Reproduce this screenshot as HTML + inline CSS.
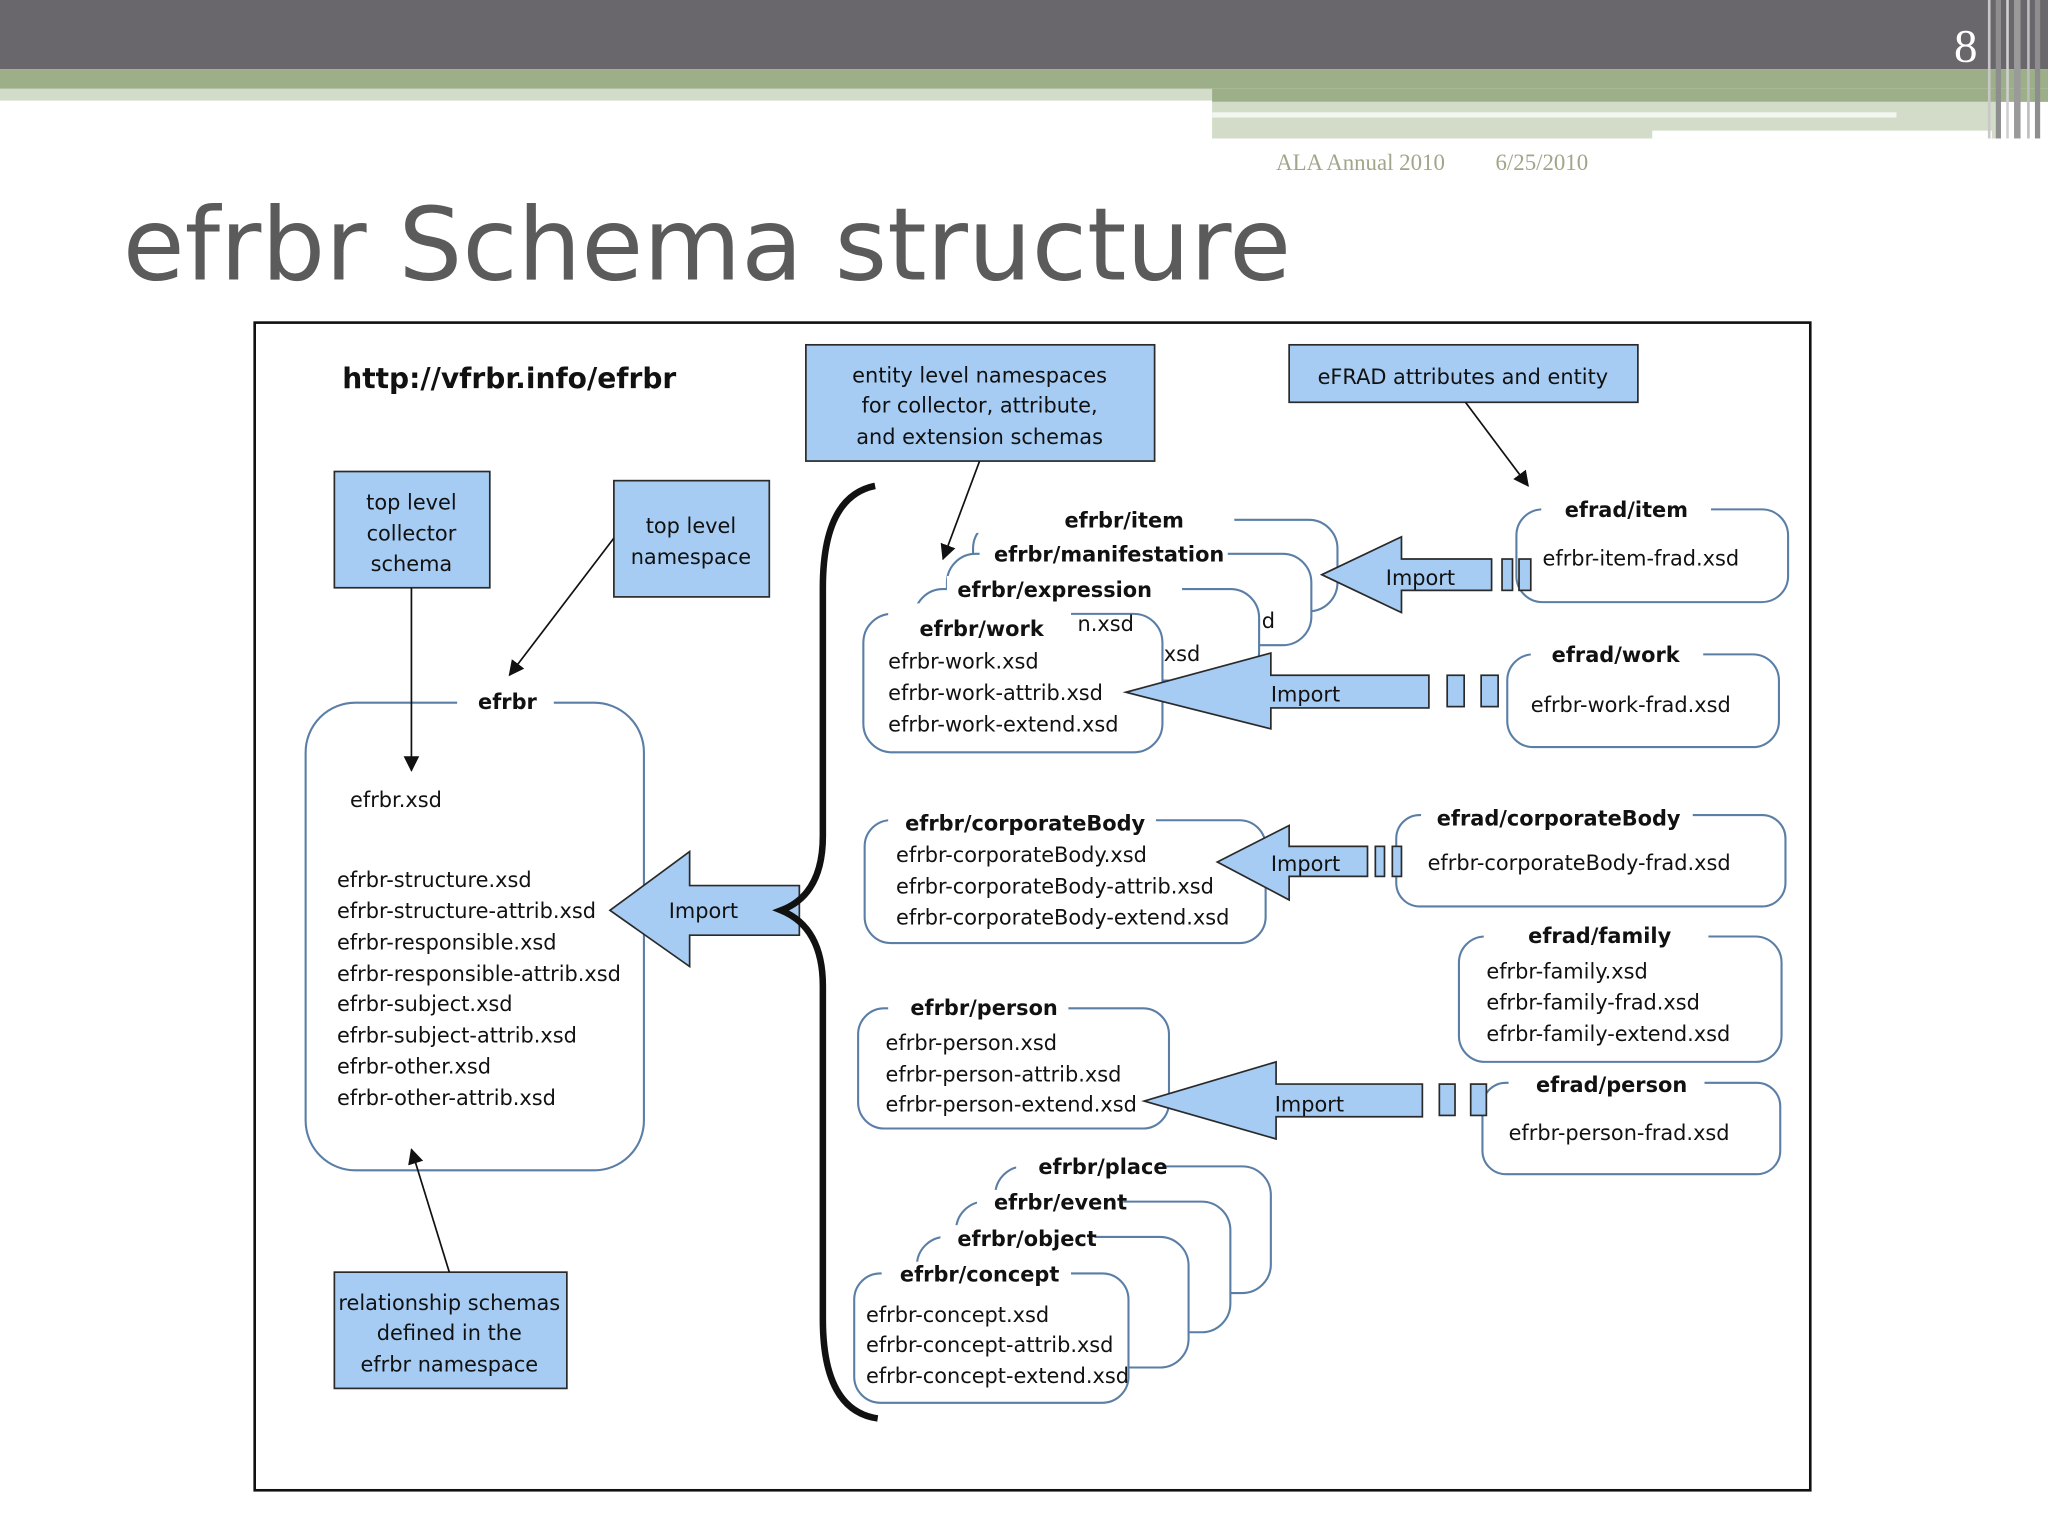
<!DOCTYPE html>
<html><head><meta charset="utf-8"><style>
html,body{margin:0;padding:0;background:#fff;}
svg{display:block;}
.t{font-family:"DejaVu Sans","Liberation Sans",sans-serif;font-size:16px;fill:#111;}
.b{font-family:"DejaVu Sans","Liberation Sans",sans-serif;font-size:16px;font-weight:bold;fill:#111;}
.bx{fill:#a6ccf3;stroke:#2a2a2a;stroke-width:1.3;}
.c{fill:#fff;stroke:#5a7ea6;stroke-width:1.6;}
.ar{fill:#a6ccf3;stroke:#2a2a2a;stroke-width:1.3;}
.ln{stroke:#111;stroke-width:1.3;fill:none;}
</style></head><body>
<svg width="2048" height="1536" viewBox="0 0 1568 1176" xmlns="http://www.w3.org/2000/svg">
<defs><marker id="m" markerWidth="12" markerHeight="12" refX="11" refY="6" orient="auto" markerUnits="userSpaceOnUse"><path d="M0,0 L12,6 L0,12 z" fill="#111"/></marker></defs>
<rect x="0" y="0" width="1568" height="53" fill="#69676b"/>
<rect x="0" y="53" width="1568" height="15" fill="#9caf88"/>
<rect x="0" y="68" width="928" height="9" fill="#d2dcc8"/>
<rect x="928" y="68" width="640" height="10" fill="#9caf88"/>
<rect x="928" y="78" width="600" height="28" fill="#d2dcc8"/>
<rect x="928" y="86" width="524" height="4" fill="#f4f7f0"/>
<rect x="1265" y="100" width="260" height="6" fill="#fff"/>
<rect x="1522" y="0" width="2" height="106" fill="#c8c8c8"/>
<rect x="1528" y="0" width="4" height="106" fill="#8e8e8e"/>
<rect x="1536" y="0" width="2" height="106" fill="#d0d0d0"/>
<rect x="1542" y="0" width="5" height="106" fill="#9a9a9a"/>
<rect x="1552" y="0" width="2" height="106" fill="#bdbdbd"/>
<rect x="1558" y="0" width="4" height="106" fill="#8e8e8e"/>
<text x="1505" y="47" font-family="Liberation Serif,serif" font-size="36" fill="#fff" text-anchor="middle">8</text>
<text x="977" y="130" font-family="Liberation Serif,serif" font-size="17.5" fill="#a3a58a">ALA Annual 2010</text>
<text x="1145" y="130" font-family="Liberation Serif,serif" font-size="17.5" fill="#a3a58a">6/25/2010</text>
<text x="94" y="214" font-family="DejaVu Sans,Liberation Sans,sans-serif" font-size="77" fill="#5b5b5b">efrbr Schema structure</text>
<rect x="195" y="247" width="1191" height="894" fill="#fff" stroke="#111" stroke-width="2"/>
<text x="262" y="297" class="b" style="font-size:21.5px">http://vfrbr.info/efrbr</text>
<rect class="bx" x="256" y="361" width="119" height="89"/>
<text class="t" text-anchor="middle" x="315" y="390">top level</text><text class="t" text-anchor="middle" x="315" y="414">collector</text><text class="t" text-anchor="middle" x="315" y="437">schema</text>
<rect class="bx" x="470" y="368" width="119" height="89"/>
<text class="t" text-anchor="middle" x="529" y="408">top level</text><text class="t" text-anchor="middle" x="529" y="432">namespace</text>
<rect class="bx" x="617" y="264" width="267" height="89"/>
<text class="t" text-anchor="middle" x="750" y="293">entity level namespaces</text><text class="t" text-anchor="middle" x="750" y="316">for collector, attribute,</text><text class="t" text-anchor="middle" x="750" y="340">and extension schemas</text>
<rect class="bx" x="987" y="264" width="267" height="44"/>
<text class="t" text-anchor="middle" x="1120" y="294">eFRAD attributes and entity</text>
<rect class="bx" x="256" y="974" width="178" height="89"/>
<text class="t" text-anchor="middle" x="344" y="1003">relationship schemas</text><text class="t" text-anchor="middle" x="344" y="1026">defined in the</text><text class="t" text-anchor="middle" x="344" y="1050">efrbr namespace</text>
<rect class="c" x="234" y="538" width="259" height="358" rx="38"/>
<rect x="350" y="530" width="74" height="16" fill="#fff"/>
<text class="b" x="366" y="543">efrbr</text>
<text class="t" x="268" y="618">efrbr.xsd</text>
<text class="t" x="258" y="679">efrbr-structure.xsd</text>
<text class="t" x="258" y="703">efrbr-structure-attrib.xsd</text>
<text class="t" x="258" y="727">efrbr-responsible.xsd</text>
<text class="t" x="258" y="751">efrbr-responsible-attrib.xsd</text>
<text class="t" x="258" y="774">efrbr-subject.xsd</text>
<text class="t" x="258" y="798">efrbr-subject-attrib.xsd</text>
<text class="t" x="258" y="822">efrbr-other.xsd</text>
<text class="t" x="258" y="846">efrbr-other-attrib.xsd</text>
<rect class="c" x="745" y="398" width="279" height="70" rx="22"/>
<rect class="c" x="725" y="424" width="279" height="70" rx="22"/>
<rect class="c" x="700" y="451" width="264" height="70" rx="22"/>
<rect x="735" y="388" width="210" height="20" fill="#fff"/>
<rect x="750" y="414" width="190" height="20" fill="#fff"/>
<rect x="725" y="441" width="180" height="20" fill="#fff"/>
<text class="b" x="815" y="404">efrbr/item</text>
<text class="b" x="761" y="430">efrbr/manifestation</text>
<text class="b" x="733" y="457">efrbr/expression</text>
<text class="t" x="966" y="481">d</text>
<rect class="c" x="661" y="470" width="229" height="106" rx="22"/>
<rect x="680" y="462" width="140" height="18" fill="#fff"/>
<text class="b" x="704" y="487">efrbr/work</text>
<text class="t" x="825" y="483">n.xsd</text>
<text class="t" x="891" y="506">xsd</text>
<text class="t" x="680" y="512">efrbr-work.xsd</text>
<text class="t" x="680" y="536">efrbr-work-attrib.xsd</text>
<text class="t" x="680" y="560">efrbr-work-extend.xsd</text>
<rect class="c" x="662" y="628" width="307" height="94" rx="20"/>
<rect x="680" y="620" width="205" height="16" fill="#fff"/>
<text class="b" x="693" y="636">efrbr/corporateBody</text>
<text class="t" x="686" y="660">efrbr-corporateBody.xsd</text>
<text class="t" x="686" y="684">efrbr-corporateBody-attrib.xsd</text>
<text class="t" x="686" y="708">efrbr-corporateBody-extend.xsd</text>
<rect class="c" x="657" y="772" width="238" height="92" rx="20"/>
<rect x="680" y="764" width="138" height="16" fill="#fff"/>
<text class="b" x="697" y="777">efrbr/person</text>
<text class="t" x="678" y="804">efrbr-person.xsd</text>
<text class="t" x="678" y="828">efrbr-person-attrib.xsd</text>
<text class="t" x="678" y="851">efrbr-person-extend.xsd</text>
<rect class="c" x="762" y="893" width="211" height="97" rx="22"/>
<rect class="c" x="732" y="920" width="210" height="100" rx="22"/>
<rect class="c" x="702" y="947" width="208" height="100" rx="22"/>
<rect x="778" y="884" width="112" height="18" fill="#fff"/>
<rect x="748" y="911" width="112" height="18" fill="#fff"/>
<rect x="720" y="938" width="118" height="18" fill="#fff"/>
<text class="b" x="795" y="899">efrbr/place</text>
<text class="b" x="761" y="926">efrbr/event</text>
<text class="b" x="733" y="954">efrbr/object</text>
<rect class="c" x="654" y="975" width="210" height="99" rx="20"/>
<rect x="675" y="966" width="145" height="18" fill="#fff"/>
<text class="b" x="689" y="981">efrbr/concept</text>
<text class="t" x="663" y="1012">efrbr-concept.xsd</text>
<text class="t" x="663" y="1035">efrbr-concept-attrib.xsd</text>
<text class="t" x="663" y="1059">efrbr-concept-extend.xsd</text>
<rect class="c" x="1161" y="390" width="208" height="71" rx="20"/>
<rect x="1180" y="381" width="130" height="18" fill="#fff"/>
<text class="b" x="1198" y="396">efrad/item</text>
<text class="t" x="1181" y="433">efrbr-item-frad.xsd</text>
<rect class="c" x="1154" y="501" width="208" height="71" rx="20"/>
<rect x="1172" y="492" width="132" height="18" fill="#fff"/>
<text class="b" x="1188" y="507">efrad/work</text>
<text class="t" x="1172" y="545">efrbr-work-frad.xsd</text>
<rect class="c" x="1069" y="624" width="298" height="70" rx="18"/>
<rect x="1088" y="615" width="208" height="18" fill="#fff"/>
<text class="b" x="1100" y="632">efrad/corporateBody</text>
<text class="t" x="1093" y="666">efrbr-corporateBody-frad.xsd</text>
<rect class="c" x="1117" y="717" width="247" height="96" rx="20"/>
<rect x="1136" y="708" width="172" height="18" fill="#fff"/>
<text class="b" x="1170" y="722">efrad/family</text>
<text class="t" x="1138" y="749">efrbr-family.xsd</text>
<text class="t" x="1138" y="773">efrbr-family-frad.xsd</text>
<text class="t" x="1138" y="797">efrbr-family-extend.xsd</text>
<rect class="c" x="1135" y="829" width="228" height="70" rx="18"/>
<rect x="1155" y="820" width="150" height="18" fill="#fff"/>
<text class="b" x="1176" y="836">efrad/person</text>
<text class="t" x="1155" y="873">efrbr-person-frad.xsd</text>
<path class="ar" d="M467,697 L528,652 L528,678 L612,678 L612,716 L528,716 L528,740 z"/>
<text class="t" x="512" y="703">Import</text>
<path class="ar" d="M1012,440 L1073,411 L1073,428 L1142,428 L1142,452 L1073,452 L1073,469 z"/>
<text class="t" x="1061" y="448">Import</text>
<rect class="ar" x="1150" y="428" width="8" height="24"/><rect class="ar" x="1163" y="428" width="9" height="24"/>
<path class="ar" d="M862,530 L973,500 L973,517 L1094,517 L1094,542 L973,542 L973,558 z"/>
<text class="t" x="973" y="537">Import</text>
<rect class="ar" x="1108" y="517" width="13" height="24"/><rect class="ar" x="1134" y="517" width="13" height="24"/>
<path class="ar" d="M932,660 L987,632 L987,648 L1047,648 L1047,671 L987,671 L987,689 z"/>
<text class="t" x="973" y="667">Import</text>
<rect class="ar" x="1053" y="648" width="7" height="23"/><rect class="ar" x="1066" y="648" width="7" height="23"/>
<path class="ar" d="M876,843 L977,813 L977,830 L1089,830 L1089,855 L977,855 L977,872 z"/>
<text class="t" x="976" y="851">Import</text>
<rect class="ar" x="1102" y="830" width="12" height="24"/><rect class="ar" x="1126" y="830" width="12" height="24"/>
<path d="M670,372 Q630,380 630,450 L630,640 Q630,685 598,697 Q630,710 630,755 L630,1010 Q630,1080 672,1086" fill="none" stroke="#111" stroke-width="5"/>
<line class="ln" x1="315" y1="450" x2="315" y2="590" marker-end="url(#m)"/>
<line class="ln" x1="470" y1="412" x2="390" y2="517" marker-end="url(#m)"/>
<line class="ln" x1="750" y1="353" x2="722" y2="428" marker-end="url(#m)"/>
<line class="ln" x1="1122" y1="308" x2="1170" y2="372" marker-end="url(#m)"/>
<line class="ln" x1="344" y1="974" x2="315" y2="880" marker-end="url(#m)"/>
</svg>
</body></html>
